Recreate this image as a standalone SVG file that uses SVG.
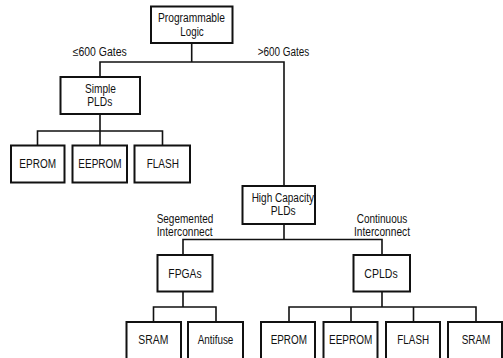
<svg xmlns="http://www.w3.org/2000/svg" width="503" height="358" viewBox="0 0 503 358">
  <style>
    .box { fill: #ffffff; stroke: #111111; stroke-width: 2; }
    .wire { fill: none; stroke: #111111; stroke-width: 1.6; stroke-linecap: square; }
    text { font-family: "Liberation Sans", Arial, sans-serif; font-size: 12px; fill: #111111; text-anchor: middle; }
  </style>
  <rect width="503" height="358" fill="#ffffff"/>

  <!-- connectors -->
  <g id="connectors" class="wire">
    <path d="M191.7,43 V62 M100,62 H284 M100,62 V77 M284,62 V186"/>
    <path d="M100,114 V131 M37.5,131 H162.5 M37.5,131 V145.5 M100,131 V145.5 M162.5,131 V145.5"/>
    <path d="M284,224 V239.5 M183,239.5 H382 M183,239.5 V255 M382,239.5 V255"/>
    <path d="M183,291.5 V307 M153.5,307 H216 M153.5,307 V322 M216,307 V322"/>
    <path d="M382,291.5 V307 M289,307 H476 M289,307 V322 M351,307 V322 M413.5,307 V322 M476,307 V322"/>
  </g>

  <!-- branch labels -->
  <g id="labels">
    <text x="99.7" y="55.5" textLength="54" lengthAdjust="spacingAndGlyphs">≤600 Gates</text>
    <text x="283.5" y="55.5" textLength="51.6" lengthAdjust="spacingAndGlyphs">&gt;600 Gates</text>
    <text x="185" y="222.5" textLength="56.7" lengthAdjust="spacingAndGlyphs">Segemented</text>
    <text x="184.7" y="236" textLength="56" lengthAdjust="spacingAndGlyphs">Interconnect</text>
    <text x="382" y="222.5" textLength="50.7" lengthAdjust="spacingAndGlyphs">Continuous</text>
    <text x="382" y="236" textLength="56" lengthAdjust="spacingAndGlyphs">Interconnect</text>
  </g>

  <!-- nodes -->
  <g id="programmable-logic">
    <rect class="box" x="151" y="6.5" width="81.5" height="36.5"/>
    <text x="191.5" y="22" textLength="67" lengthAdjust="spacingAndGlyphs">Programmable</text>
    <text x="192" y="35.5" textLength="23.4" lengthAdjust="spacingAndGlyphs">Logic</text>
  </g>
  <g id="simple-plds">
    <rect class="box" x="60.5" y="77" width="79.5" height="37"/>
    <text x="100.5" y="92.5" textLength="31" lengthAdjust="spacingAndGlyphs">Simple</text>
    <text x="99.8" y="106" textLength="25" lengthAdjust="spacingAndGlyphs">PLDs</text>
  </g>
  <g id="spld-eprom">
    <rect class="box" x="11" y="145.5" width="53.5" height="37"/>
    <text x="37.7" y="167.5" textLength="36.7" lengthAdjust="spacingAndGlyphs">EPROM</text>
  </g>
  <g id="spld-eeprom">
    <rect class="box" x="72.5" y="145.5" width="54.5" height="37"/>
    <text x="100" y="167.5" textLength="43.3" lengthAdjust="spacingAndGlyphs">EEPROM</text>
  </g>
  <g id="spld-flash">
    <rect class="box" x="134.5" y="145.5" width="55.5" height="37"/>
    <text x="162.8" y="167.5" textLength="32.3" lengthAdjust="spacingAndGlyphs">FLASH</text>
  </g>
  <g id="high-capacity-plds">
    <rect class="box" x="242.5" y="186" width="72.5" height="38"/>
    <text x="282.8" y="201.5" textLength="62.3" lengthAdjust="spacingAndGlyphs">High Capacity</text>
    <text x="283.2" y="215" textLength="25" lengthAdjust="spacingAndGlyphs">PLDs</text>
  </g>
  <g id="fpgas">
    <rect class="box" x="157.5" y="255" width="55" height="36.5"/>
    <text x="185" y="277.5" textLength="33.3" lengthAdjust="spacingAndGlyphs">FPGAs</text>
  </g>
  <g id="cplds">
    <rect class="box" x="353.5" y="255" width="56.5" height="36.5"/>
    <text x="381" y="277.5" textLength="33.3" lengthAdjust="spacingAndGlyphs">CPLDs</text>
  </g>
  <g id="fpga-sram">
    <rect class="box" x="126.5" y="322" width="54.5" height="42"/>
    <text x="153.3" y="344" textLength="30" lengthAdjust="spacingAndGlyphs">SRAM</text>
  </g>
  <g id="fpga-antifuse">
    <rect class="box" x="188" y="322" width="55" height="42"/>
    <text x="215.5" y="344" textLength="35.7" lengthAdjust="spacingAndGlyphs">Antifuse</text>
  </g>
  <g id="cpld-eprom">
    <rect class="box" x="261" y="322" width="54" height="42"/>
    <text x="288.8" y="344" textLength="36.3" lengthAdjust="spacingAndGlyphs">EPROM</text>
  </g>
  <g id="cpld-eeprom">
    <rect class="box" x="323.5" y="322" width="54" height="42"/>
    <text x="350.7" y="344" textLength="43.3" lengthAdjust="spacingAndGlyphs">EEPROM</text>
  </g>
  <g id="cpld-flash">
    <rect class="box" x="386" y="322" width="54" height="42"/>
    <text x="413.2" y="344" textLength="31.7" lengthAdjust="spacingAndGlyphs">FLASH</text>
  </g>
  <g id="cpld-sram">
    <rect class="box" x="448" y="322" width="54" height="42"/>
    <text x="476" y="344" textLength="28.7" lengthAdjust="spacingAndGlyphs">SRAM</text>
  </g>
</svg>
